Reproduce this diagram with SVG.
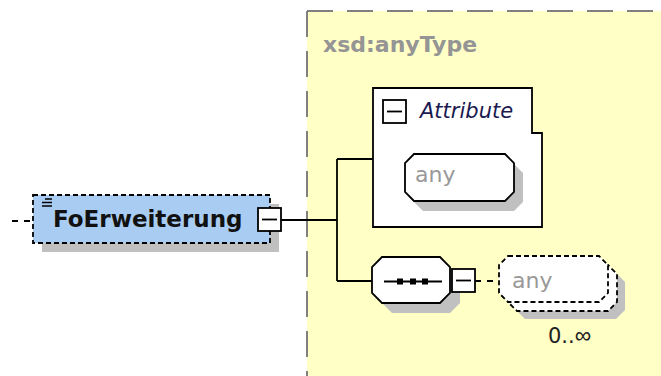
<svg xmlns="http://www.w3.org/2000/svg" width="661" height="376" viewBox="0 0 661 376">
  <style>
    .ln { stroke: #000; stroke-width: 1.8; fill: none; }
    .dl { stroke: #000; stroke-width: 1.8; fill: none; stroke-dasharray: 6 6; }
    .box { fill: #fff; stroke: #000; stroke-width: 1.8; }
    .dbox { fill: #fff; stroke: #000; stroke-width: 1.8; stroke-dasharray: 5 3; }
    .shadow { fill: #c0c0c0; stroke: none; }
    .gray { font-family: "DejaVu Sans", "Liberation Sans", sans-serif; font-size: 22px; fill: #999; }
    .lbl { font-family: "DejaVu Sans", "Liberation Sans", sans-serif; }
  </style>
  <rect width="661" height="376" fill="#fff"/>

  <g id="anyType">
    <rect x="307" y="11" width="360" height="370" fill="#ffffc6"/>
    <path d="M307,11 H661" stroke="#808080" stroke-width="2" stroke-dasharray="26 14" fill="none"/>
    <path d="M307,11 V376" stroke="#808080" stroke-width="2" stroke-dasharray="26 14" fill="none"/>
    <text x="323" y="52" class="lbl" font-size="22" font-weight="bold" fill="#959595">xsd:anyType</text>
  </g>

  <g id="connectors">
    <path class="dl" d="M12,221 H33"/>
    <path class="ln" d="M281,220 H337 M337,159 V281 M337,159 H373 M337,281 H372"/>
    <path class="dl" d="M475,281 H499" stroke-dasharray="5 4"/>
  </g>

  <g id="FoErweiterung">
    <rect class="shadow" x="42" y="204" width="237" height="48"/>
    <rect x="33" y="195" width="237" height="48" fill="#a8ccf2" stroke="#000" stroke-width="1.8" stroke-dasharray="5 3"/>
    <path d="M45,199 H52 M42,202.5 H52 M42,206 H52" stroke="#000" stroke-width="1.4"/>
    <text x="53" y="227" class="lbl" font-size="23" font-weight="bold" fill="#111">FoErweiterung</text>
    <rect class="box" x="258" y="208" width="23" height="23"/>
    <path class="ln" d="M262,219.5 H277"/>
  </g>

  <g id="Attribute">
    <path class="box" d="M373,88 H532 V133 H542 V227 H373 Z"/>
    <rect class="box" x="383" y="100" width="23" height="23"/>
    <path class="ln" d="M387,111.5 H402"/>
    <text x="420" y="118" class="lbl" font-size="21" font-style="italic" fill="#1a1a50">Attribute</text>
  </g>

  <g id="anyAttribute">
    <path class="shadow" d="M423,164 H514 L523,173 V202 L514,211 H423 L414,202 V173 Z"/>
    <path class="box" d="M414,154 H505 L514,163 V192 L505,201 H414 L405,192 V163 Z"/>
    <text x="415" y="182" class="gray">any</text>
  </g>

  <g id="sequence">
    <path class="shadow" d="M392,267 H450 L460,277 V303 L450,313 H392 L382,303 V277 Z"/>
    <path class="box" d="M382,257 H440 L450,267 V293 L440,303 H382 L372,293 V267 Z"/>
    <path class="ln" d="M384,281.5 H442"/>
    <rect x="397" y="278.5" width="6" height="6" fill="#000"/>
    <rect x="410" y="278.5" width="6" height="6" fill="#000"/>
    <rect x="422" y="278.5" width="6" height="6" fill="#000"/>
    <rect class="box" x="452" y="269" width="23" height="23"/>
    <path class="ln" d="M456,280.5 H471"/>
  </g>

  <g id="anyElement">
    <path class="shadow" d="M525,273 H616 L625,282 V310 L616,319 H525 L516,310 V282 Z"/>
    <path class="dbox" d="M517,265 H608 L617,274 V302 L608,311 H517 L508,302 V274 Z"/>
    <path class="dbox" d="M508,256 H599 L608,265 V293 L599,302 H508 L499,293 V265 Z"/>
    <text x="512" y="288" class="gray">any</text>
    <text x="548" y="343" class="lbl" font-size="21" fill="#222">0..<tspan font-family="Liberation Sans, sans-serif" font-size="23">∞</tspan></text>
  </g>
</svg>
